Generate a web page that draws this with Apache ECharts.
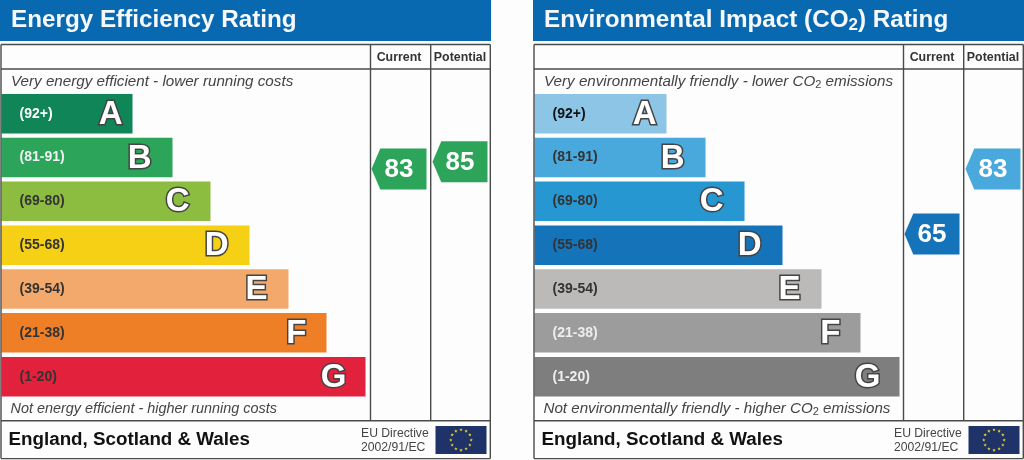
<!DOCTYPE html>
<html><head><meta charset="utf-8">
<style>html,body{margin:0;padding:0;background:#fdfdfd}#c{width:1024px;height:460px}</style>
<script src="https://cdn.jsdelivr.net/npm/echarts@6/dist/echarts.min.js"></script>
</head><body><div id="c"></div>
<script>
const bandRanges = ['(92+)','(81-91)','(69-80)','(55-68)','(39-54)','(21-38)','(1-20)'];
const bandLetters = ['A','B','C','D','E','F','G'];
const leftLengths = [131,171,209,248,287,325,364];
const rightLengths = [132,171,210,248,287,326,365];
const leftColors = ['#0f8558','#2ca45a','#8dbd40','#f6d014','#f3a96c','#ee7f26','#e2213c'];
const rightColors = ['#8cc5e6','#49a9dc','#2697d1','#1574b9','#bbbab8','#9c9c9c','#7e7e7e'];
const leftLabelColors = ['#fff','#f2f2f2','#333','#333','#333','#333','#333'];
const rightLabelColors = ['#111','#333','#333','#333','#333','#eee','#eee'];
const letterInsets = [10,21,21,21,21,20,19];
const pointerColumns = ['Current','Potential'];
const leftRatings = [83,85];
const leftRatingColors = ['#2ca45a','#2ca45a'];
const rightRatings = [65,83];
const rightRatingColors = ['#1574b9','#49a9dc'];
const titles = ['{a|Energy Efficiency Rating}','{a|Environmental Impact (CO}{s|2}{a|) Rating}'];
const topNotes = ['{a|Very energy efficient - lower running costs}','{a|Very environmentally friendly - lower CO}{s|2}{a| emissions}'];
const bottomNotes = ['{a|Not energy efficient - higher running costs}','{a|Not environmentally friendly - higher CO}{s|2}{a| emissions}'];
const bottomNoteSizes = [14.4,15.15];
const regionName = 'England, Scotland & Wales';
const directive = ['EU Directive','2002/91/EC'];

const FONT = '"Liberation Sans", Arial, sans-serif';
const LINE = '#4a4a4a';
const POINTER = 'path://M0 50 L16 0 L100 0 L100 100 L16 100 Z';
const chart = echarts.init(document.getElementById('c'), null, {renderer:'canvas'});

const grids=[], xAxes=[], yAxes=[], series=[], graphic=[];
function txt(x,y,text,font,color){
  graphic.push({type:'text',x,y,z:20,style:{text,fill:color,font,verticalAlign:'middle'}});
}
function rich(x,y,text,size,weight,style,subSize,color,lh,drop){
  const base={fontFamily:FONT,fontSize:size,fontWeight:weight,fontStyle:style,fill:color,color:color,lineHeight:lh};
  graphic.push({type:'text',x,y,z:20,style:{text,verticalAlign:'middle',
    rich:{a:base,s:Object.assign({},base,{fontSize:subSize,fontStyle:'normal',lineHeight:lh,verticalAlign:'bottom',padding:[drop,0,0,0]})}}});
}
function ln(x1,y1,x2,y2){
  graphic.push({type:'line',z:15,shape:{x1,y1,x2,y2},style:{stroke:LINE,lineWidth:1.4}});
}
function flag(x,y,w,h){
  graphic.push({type:'rect',z:15,shape:{x,y,width:w,height:h},style:{fill:'#1f3368'}});
  const cx=x+w/2, cy=y+h/2, R=10.2;
  for(let i=0;i<12;i++){
    const a=i*Math.PI/6, sx=cx+R*Math.cos(a), sy=cy+R*Math.sin(a), pts=[];
    for(let k=0;k<10;k++){
      const r=k%2?0.75:1.8, b=-Math.PI/2+k*Math.PI/5;
      pts.push([sx+r*Math.cos(b),sy+r*Math.sin(b)]);
    }
    graphic.push({type:'polygon',z:16,shape:{points:pts},style:{fill:'#f2d32a'}});
  }
}
function panel(i,x0,lengths,colors,labelColors,ratings,ratingColors){
  const g=grids.length;
  graphic.push({type:'rect',z:1,shape:{x:x0-1,y:0,width:491,height:41},style:{fill:'#0869b1'}});
  rich(x0+10,20.5,titles[i],24.25,'bold','normal',17,'#f6f8fb',26,4);
  const r=x0+489.3, a=x0+369.5, b=x0+429.7;
  ln(x0,44.5,r,44.5); ln(x0,69,r,69); ln(x0,420.8,r,420.8); ln(x0,458.6,r,458.6);
  ln(x0,44.5,x0,458.6); ln(r,44.5,r,458.6); ln(a,44.5,a,420.8); ln(b,44.5,b,420.8);
  rich(x0+10,81.5,topNotes[i],15.2,'normal','italic',11,'#444',17,2);
  rich(x0+9.5,408.5,bottomNotes[i],bottomNoteSizes[i],'normal','italic',11,'#444',17,2);
  txt(x0+7.5,439.5,regionName,'bold 18.8px '+FONT,'#111');
  txt(x0+360,434,directive[0],'12.2px '+FONT,'#444');
  txt(x0+360,448,directive[1],'12.2px '+FONT,'#444');
  flag(x0+434.5,426,51,28);

  grids.push({left:x0+0.5,top:91.8,width:369,height:306.8,containLabel:false});
  xAxes.push({gridIndex:g,type:'value',min:0,max:369,show:false});
  yAxes.push({gridIndex:g,type:'category',inverse:true,data:bandRanges,z:5,
    axisLine:{show:false},axisTick:{show:false},splitLine:{show:false},
    axisLabel:{inside:true,margin:18,padding:[2,0,0,0],fontFamily:FONT,fontWeight:'bold',fontSize:14,
      color:(v,idx)=>labelColors[idx]}});
  series.push({type:'bar',xAxisIndex:g,yAxisIndex:g,barWidth:39.5,silent:true,animation:false,
    data:lengths.map((v,k)=>({value:v,itemStyle:{color:colors[k]},
      label:{formatter:bandLetters[k],distance:letterInsets[k]}})),
    label:{show:true,position:'insideRight',offset:[0,1],fontFamily:FONT,fontWeight:'bold',fontSize:33,
      color:'#fff',textBorderColor:'#444',textBorderWidth:3}});

  const h=g+1;
  grids.push({left:x0+367.5,top:71.5,width:122,height:346.5});
  xAxes.push({gridIndex:h,type:'category',position:'top',data:pointerColumns,
    axisLine:{show:false},axisTick:{show:false},splitLine:{show:false},
    axisLabel:{margin:8,fontFamily:FONT,fontWeight:'bold',fontSize:12.4,color:'#333',interval:0}});
  yAxes.push({gridIndex:h,type:'value',min:14,max:110,show:false});
  series.push({type:'scatter',xAxisIndex:h,yAxisIndex:h,silent:true,animation:false,z:6,
    symbol:POINTER,symbolSize:[55,41],symbolKeepAspect:false,
    itemStyle:{opacity:1},
    data:ratings.map((v,k)=>({value:[k,v],itemStyle:{color:ratingColors[k],opacity:1}})),
    label:{show:true,position:'inside',offset:[0,1],formatter:p=>p.value[1],
      fontFamily:FONT,fontWeight:'bold',fontSize:26,color:'#fff'}});
}
panel(0,1,leftLengths,leftColors,leftLabelColors,leftRatings,leftRatingColors);
panel(1,534,rightLengths,rightColors,rightLabelColors,rightRatings,rightRatingColors);

chart.setOption({animation:false,backgroundColor:'#fdfdfd',grid:grids,xAxis:xAxes,yAxis:yAxes,series,graphic:{elements:graphic}});
</script></body></html>
